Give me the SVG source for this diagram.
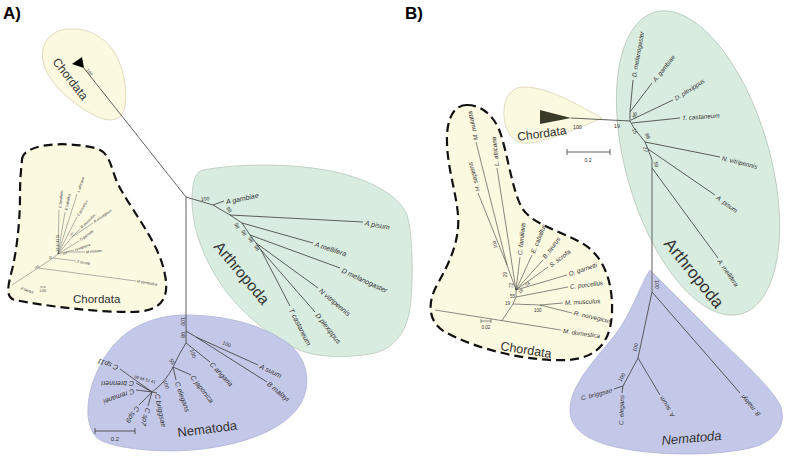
<svg xmlns="http://www.w3.org/2000/svg" width="787" height="457" viewBox="0 0 787 457">
<style>
.yel{fill:#fcf9e1;stroke:#d9d2b0;stroke-width:0.8}
.grn{fill:#d8ece0;stroke:#b8c8bc;stroke-width:0.8}
.lav{fill:#c4c8e8;stroke:#aeb2d4;stroke-width:0.8}
.dash{fill:#fcf9e1;stroke:#111;stroke-width:2.2;stroke-dasharray:9 5}
.br{fill:none;stroke:#3a3a3a;stroke-width:0.8}
.brt{fill:none;stroke:#555;stroke-width:0.45}
.stem{fill:none;stroke:#777;stroke-width:1.2}
text{font-family:"Liberation Sans",Arial,sans-serif;fill:#333}
.sp{font-size:7px;font-style:italic}
.spb{font-size:6.3px;font-style:italic}
.sps{font-size:3.6px;font-style:italic}
.bs{font-size:5.2px}
.bss{font-size:2.6px}
.pn{font-size:17px;font-weight:bold;fill:#000}
</style>

<text class="pn" x="3" y="19">A)</text>
<text class="pn" x="405" y="19">B)</text>

<!-- ================= PANEL A ================= -->
<g id="A-chordata-top">
<path class="yel" d="M 68,29 C 90,27 108,40 116,55 C 125,72 128,95 124,110 C 120,122 108,122 96,116 C 75,106 50,85 44,65 C 38,45 50,30 68,29 Z"/>
<polygon points="72,64 82,57 84,68" fill="#000"/>
<text transform="translate(86,70) rotate(52)" class="bs" style="font-size:4.5px">100</text>
<text transform="translate(52,62) rotate(52)" style="font-size:12px">Chordata</text>
</g>

<g id="A-chordata-detail">
<path class="dash" d="M 22,160 C 22,145 60,140 95,148 C 112,152 110,170 120,188 C 135,215 160,245 165,275 C 170,300 160,312 130,312 C 90,312 40,305 15,300 C 5,298 8,285 12,270 C 18,245 20,215 20,195 C 20,180 21,170 22,160 Z"/>
<path class="brt" d="M12,285 L38,268 L53,258 L58,254 M38,268 L136,281 M53,258 L76,261 M58,254 L66,252 M66,252 L74,250 M66,252 L85,252 M58,254 L79,241 M58,254 L72,237 M72,237 L80,229 M72,237 L93,223 M58,254 L77,217 M58,254 L77,194 M58,254 L65,212 M58,254 L59,210 M41,287 L45,287 M41,286 L41,288 M45,286 L45,288"/>
<text class="sps" transform="translate(21,288) rotate(20)" dy="1.2">B taurus</text>
<text class="sps" transform="translate(137,281) rotate(10)" dy="1.2">M domestica</text>
<text class="sps" transform="translate(77,261) rotate(12)" dy="1.2">S scrofa</text>
<text class="sps" transform="translate(75,250) rotate(-20)" dy="1.2">H sapiens</text>
<text class="sps" transform="translate(86,252) rotate(-5)" dy="1.2">M mulatta</text>
<text class="sps" transform="translate(80,240) rotate(-35)" dy="1.2">O garnetti</text>
<text class="sps" transform="translate(81,228) rotate(-45)" dy="1.2">M musculus</text>
<text class="sps" transform="translate(94,222) rotate(-35)" dy="1.2">R norvegicus</text>
<text class="sps" transform="translate(78,216) rotate(-60)" dy="1.2">C porcellus</text>
<text class="sps" transform="translate(78,192) rotate(-70)" dy="1.2">L africana</text>
<text class="sps" transform="translate(66,210) rotate(-78)" dy="1.2">E caballus</text>
<text class="sps" transform="translate(60,208) rotate(-84)" dy="1.2">C familiaris</text>
<text class="bss" transform="translate(35,269) rotate(-30)">100</text>
<text class="bss" transform="translate(49,259)">35</text>
<text class="bss" transform="translate(63,255) rotate(-20)">100</text>
<text class="bss" transform="translate(71,236) rotate(-50)">100</text>
<text class="bss" transform="translate(59,251) rotate(-90)">77 16 18 3 33</text>
<text class="bss" x="43" y="291.5" text-anchor="middle">0.005</text>
<text x="73" y="303" style="font-size:11.5px">Chordata</text>
</g>

<g id="A-arthropoda">
<path class="grn" d="M 203,170 C 240,163 300,163 340,173 C 375,182 400,197 407,215 C 413,235 413,275 411,300 C 409,330 395,350 370,354 C 345,358 315,358 295,348 C 265,333 240,310 225,290 C 205,262 192,230 192,200 C 192,183 195,172 203,170 Z"/>
<path class="br" d="M213,205 L224,201 M213,205 L230,215 L363,222 M230,215 L242,223 L313,243 M242,223 L250,235 L340,268 M250,235 L256,243 L318,288 M256,243 L261,250 L315,312 M261,250 L290,306"/>
<text class="sp" transform="translate(226,202) rotate(-12)" dy="2.4">A gambiae</text>
<text class="sp" transform="translate(365,223) rotate(10)" dy="2.4">A pisum</text>
<text class="sp" transform="translate(315,244) rotate(18)" dy="2.4">A mellifera</text>
<text class="sp" transform="translate(342,270) rotate(25)" dy="2.4">D melanogaster</text>
<text class="sp" transform="translate(320,290) rotate(40)" dy="2.4">N vitripennis</text>
<text class="sp" transform="translate(317,314) rotate(52)" dy="2.4">D plexippus</text>
<text class="sp" transform="translate(291,309) rotate(63)" dy="2.4">T castaneum</text>
<text class="bs" transform="translate(201,201) rotate(-5)">100</text>
<text class="bs" transform="translate(226,208) rotate(60)">98</text>
<text class="bs" transform="translate(234,224) rotate(65)">98</text>
<text class="bs" transform="translate(241,231) rotate(65)">98</text>
<text class="bs" transform="translate(248,238) rotate(65)">98</text>
<text class="bs" transform="translate(254,246) rotate(65)">98</text>
<text transform="translate(213,247) rotate(50)" style="font-size:15.5px">Arthropoda</text>
</g>

<g id="A-nematoda">
<path class="lav" d="M 185,315 C 225,315 265,325 290,345 C 308,360 312,385 300,405 C 285,428 250,442 210,448 C 170,454 120,450 100,440 C 85,430 86,405 92,385 C 100,360 115,337 140,325 C 155,318 170,315 185,315 Z"/>
<path class="br" d="M186,331 L196,337 L258,365 M196,337 L267,382 M186,331 L186,343 L210,362 M186,343 Q180,352 173,367 L191,375 M173,367 L176,380 M173,367 Q165,383 152,392 M152,392 L120,369 M152,392 L136,383 M152,392 L136,390 M152,392 L139,405 M152,392 L148,406 M152,392 L157,393 M95,431 L135,431 M95,428 L95,434 M135,428 L135,434"/>
<text class="sp" transform="translate(260,366) rotate(25)" dy="2.4">A suum</text>
<text class="sp" transform="translate(268,383) rotate(40)" dy="2.4">B malayi</text>
<text class="sp" transform="translate(211,363) rotate(47)" dy="2.4">C angaria</text>
<text class="sp" transform="translate(192,376) rotate(52)" dy="2.4">C japonica</text>
<text class="sp" transform="translate(177,382) rotate(70)" dy="2.4">C elegans</text>
<text class="sp" transform="translate(157,394) rotate(78)" dy="2.4">C briggsae</text>
<text class="sp" transform="translate(148,408) rotate(105)" dy="2.4">C sp7</text>
<text class="sp" transform="translate(138,407) rotate(125)" dy="2.4">C sp9</text>
<text class="sp" transform="translate(134,391) rotate(160)" dy="2.4">C remanei</text>
<text class="sp" transform="translate(134,383) rotate(180)" dy="2.4">C brenneri</text>
<text class="sp" transform="translate(118,368) rotate(200)" dy="2.4">C sp11</text>
<text class="bs" transform="translate(181,317) rotate(90)">100</text>
<text class="bs" transform="translate(181,332) rotate(90)">98</text>
<text class="bs" transform="translate(222,344) rotate(24)">100</text>
<text class="bs" transform="translate(190,350) rotate(72)">100</text>
<text class="bs" transform="translate(169,360) rotate(60)">55</text>
<text class="bs" transform="translate(163,381) rotate(70)">100</text>
<text class="bs" transform="translate(134,378) rotate(15)" style="font-size:4.2px">98 94 51 41</text>
<text class="bs" x="115" y="441" text-anchor="middle" style="font-size:6px">0.2</text>
<text transform="translate(178,437) rotate(-7)" style="font-size:13px">Nematoda</text>
</g>

<g id="A-connectors">
<path class="br" d="M83,67 L186,197 L186,331 M186,197 L213,205"/>
</g>

<!-- ================= PANEL B ================= -->
<g id="B-arthropoda">
<ellipse class="grn" cx="698" cy="163" rx="72" ry="157" transform="rotate(-16 698 163)"/>
<path class="br" d="M630,121 L630,112 L633,80 M630,112 L652,83 M631,120 L673,100 M632,123 L680,118 M630,121 L634,128 L645,142 L720,157 M645,142 L648,149 L715,195 M648,149 L652,160 M652,168 L718,258"/>
<text class="spb" transform="translate(634,77) rotate(-80)" dy="2.2">D. melanogaster</text>
<text class="spb" transform="translate(654,81) rotate(-52)" dy="2.2">A. gambiae</text>
<text class="spb" transform="translate(675,99) rotate(-33)" dy="2.2">D. plexippus</text>
<text class="spb" transform="translate(682,118) rotate(-4)" dy="2.2">T. castaneum</text>
<text class="spb" transform="translate(722,158) rotate(14)" dy="2.2">N. vitripennis</text>
<text class="spb" transform="translate(717,197) rotate(36)" dy="2.2">A. pisum</text>
<text class="spb" transform="translate(719,260) rotate(55)" dy="2.2">A. mellifera</text>
<text class="bs" x="614" y="128">19</text>
<text class="bs" transform="translate(636,118) rotate(-80)">55</text>
<text class="bs" transform="translate(632,129) rotate(70)">15</text>
<text class="bs" transform="translate(645,134) rotate(70)">88</text>
<text class="bs" transform="translate(643,147) rotate(80)">27</text>
<text class="bs" transform="translate(654,162) rotate(80)">59</text>
<text transform="translate(663,244) rotate(51)" style="font-size:17px">Arthropoda</text>
</g>

<g id="B-chordata-top">
<path class="yel" d="M 602,118 C 580,106 550,88 526,87 C 510,86 503,100 504,116 C 505,133 514,145 530,143 C 555,139 583,126 602,118 Z"/>
<polygon points="540,110 540,124 571,118" fill="#3a3a28"/>
<text class="bs" x="573" y="129">100</text>
<text transform="translate(518,141) rotate(-8)" style="font-size:12px">Chordata</text>
<path class="br" d="M567,152 L610,152 M567,149 L567,155 M610,149 L610,155"/>
<text class="bs" x="588" y="162" text-anchor="middle">0.2</text>
</g>

<g id="B-chordata-detail">
<path class="dash" d="M 467,105 C 482,105 494,116 500,132 C 508,155 512,190 522,208 C 532,224 558,230 582,243 C 604,256 613,282 612,312 C 611,342 597,358 568,360 C 530,362 478,350 445,332 C 428,322 427,303 437,285 C 450,262 460,240 458,215 C 456,190 446,165 447,135 C 448,116 455,105 467,105 Z"/>
<path class="br" style="stroke-width:0.6" d="M435,310 L561,330 M502,320.6 L513,304 L540,305 L563,303 M540,305 L572,313 M513,304 L516,297 L568,287 M516,297 L516,290 L567,275 M516,290 L548,267 M516,290 L543,260 M516,290 L532,255 M516,290 L520,257 M516,290 L497,168 M516,290 L507,265 L478,193 M507,265 L476,142 M481,321 L491,321 M481,319 L481,323 M491,319 L491,323"/>
<text class="spb" transform="translate(563,331) rotate(8)" dy="2">M. domestica</text>
<text class="spb" transform="translate(565,303) rotate(-3)" dy="2">M. musculus</text>
<text class="spb" transform="translate(574,313) rotate(13)" dy="2">R. norvegicus</text>
<text class="spb" transform="translate(570,287) rotate(-7)" dy="2">C. porcellus</text>
<text class="spb" transform="translate(569,274) rotate(-18)" dy="2">O. garnetti</text>
<text class="spb" transform="translate(550,266) rotate(-37)" dy="2">S. scrofa</text>
<text class="spb" transform="translate(544,258) rotate(-53)" dy="2">B. taurus</text>
<text class="spb" transform="translate(533,253) rotate(-68)" dy="2">E. caballus</text>
<text class="spb" transform="translate(520,255) rotate(-84)" dy="2">C. familiaris</text>
<text class="spb" transform="translate(497,166) rotate(-96)" dy="2">L. africana</text>
<text class="spb" transform="translate(478,191) rotate(-105)" dy="2">H. sapiens</text>
<text class="spb" transform="translate(476,140) rotate(-102)" dy="2">M. mulatta</text>
<text class="bs" x="505" y="305" style="font-size:4.5px">19</text>
<text class="bs" x="510" y="298" style="font-size:4.5px">55</text>
<text class="bs" transform="translate(513,288) rotate(-90)" style="font-size:4.5px">72</text>
<text class="bs" transform="translate(520,294) rotate(-45)" style="font-size:4.5px">18</text>
<text class="bs" transform="translate(527,287) rotate(-45)" style="font-size:4.5px">74</text>
<text class="bs" transform="translate(507,277) rotate(-90)" style="font-size:4.5px">29</text>
<text class="bs" transform="translate(497,248) rotate(-100)" style="font-size:4.5px">100</text>
<text class="bs" x="534" y="312" style="font-size:4.5px">100</text>
<text class="bs" x="486" y="329" text-anchor="middle" style="font-size:4.5px">0.02</text>
<text transform="translate(500,350) rotate(9)" style="font-size:12.5px">Chordata</text>
</g>

<g id="B-nematoda">
<path class="lav" d="M 650,270 C 660,280 680,300 705,325 C 735,355 770,385 780,405 C 788,425 775,442 750,448 C 715,456 660,456 620,448 C 590,442 570,430 570,410 C 570,385 595,360 615,335 C 632,313 640,285 650,270 Z"/>
<path class="br" d="M652,292 L740,393 M652,292 Q645,325 638,358 L660,395 M638,358 L623,386 L614,389 M623,386 L622,393"/>
<text class="spb" transform="translate(742,396) rotate(229)" text-anchor="end" dy="2.2">B. malayi</text>
<text class="spb" transform="translate(661,397) rotate(239)" text-anchor="end" dy="2.2">A. suum</text>
<text class="spb" transform="translate(622,395) rotate(-88)" text-anchor="end" dy="2.2">C. elegans</text>
<text class="spb" transform="translate(612,390) rotate(-15)" text-anchor="end" dy="2.2">C. briggsae</text>
<text class="bs" transform="translate(655,280) rotate(90)">100</text>
<text class="bs" transform="translate(636,352) rotate(-75)">100</text>
<text class="bs" transform="translate(621,382) rotate(-60)">100</text>
<text transform="translate(662,445) rotate(-5)" style="font-size:13px;font-style:italic">Nematoda</text>
</g>

<g id="B-connectors">
<path class="br" d="M571,118 L630,121"/>
<path class="stem" d="M652,160 L652,292"/>
</g>
</svg>
